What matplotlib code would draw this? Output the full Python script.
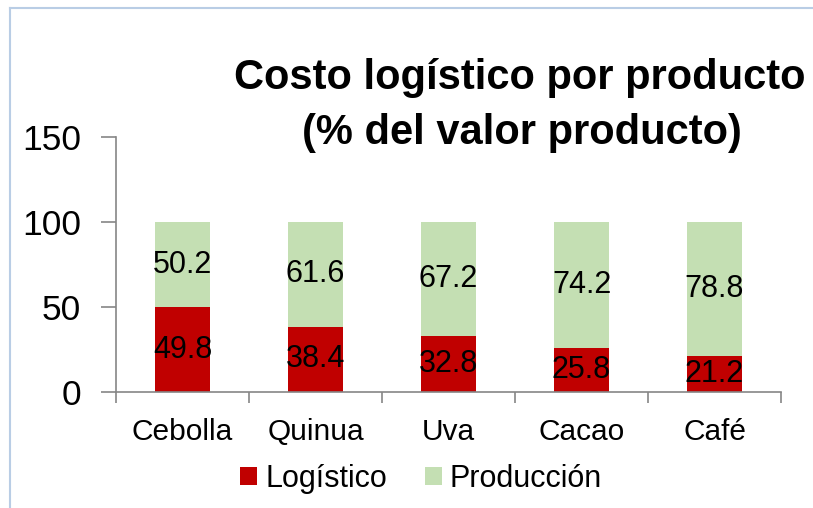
import matplotlib
matplotlib.use("Agg")
import matplotlib.pyplot as plt
from matplotlib.lines import Line2D

categories = ["Cebolla", "Quinua", "Uva", "Cacao", "Café"]
logistico = [49.8, 38.4, 32.8, 25.8, 21.2]
produccion = [50.2, 61.6, 67.2, 74.2, 78.8]
yticks = [0, 50, 100, 150]

plt.rcParams['font.family'] = ['Liberation Sans', 'DejaVu Sans']

W, H = 813, 508
fig = plt.figure(figsize=(W/100, H/100), dpi=100)
ax = fig.add_axes([116/W, 1-392/H, (781-116)/W, (392-137)/H])

x = list(range(len(categories)))
red = "#C00000"
green = "#C4DFB3"
ax.bar(x, logistico, width=0.41, color=red, label="Logístico")
ax.bar(x, produccion, width=0.41, bottom=logistico, color=green, label="Producción")

for i in x:
    ax.text(i, logistico[i]/2, f"{logistico[i]:.1f}", ha="center", va="center", fontsize=22, color="black")
    ax.text(i, logistico[i] + produccion[i]/2, f"{produccion[i]:.1f}", ha="center", va="center", fontsize=22, color="black")

ax.set_xlim(-0.5, len(categories)-0.5)
ax.set_ylim(0, 150)
ax.set_yticks(yticks)
ax.set_yticklabels([str(v) for v in yticks], fontsize=25.5)
ax.set_xticks(x)
ax.set_xticklabels(categories, fontsize=21.5)
ax.tick_params(axis='x', length=0, pad=19)
ax.tick_params(axis='y', length=11, width=1.2, color="#868686", pad=14)
# category boundary ticks
ax.set_xticks([i - 0.5 for i in range(len(categories)+1)], minor=True)
ax.tick_params(axis='x', which='minor', length=8, width=1.2, color="#868686")

for s in ["top", "right"]:
    ax.spines[s].set_visible(False)
for s in ["left", "bottom"]:
    ax.spines[s].set_color("#868686")
    ax.spines[s].set_linewidth(1.2)

fig.text(520/W, 1-78/H, "Costo logístico por producto", ha="center", va="center",
         fontsize=30, fontweight="bold")
fig.text(522/W, 1-133/H, "(% del valor producto)", ha="center", va="center",
         fontsize=30, fontweight="bold")

leg = fig.legend(loc="center", bbox_to_anchor=(421/W, 1-479/H), ncol=2, frameon=False,
                 fontsize=22, handlelength=0.55, handleheight=0.55, handletextpad=0.26,
                 columnspacing=1.24, borderpad=0, borderaxespad=0)

# chart area border (light blue)
fig.add_artist(Line2D([10/W, 10/W], [0, 1-8/H], transform=fig.transFigure, color="#B9CDE5", lw=1.5))
fig.add_artist(Line2D([10/W, 1], [1-8/H, 1-8/H], transform=fig.transFigure, color="#B9CDE5", lw=1.5))

fig.savefig("out.png", dpi=100)
